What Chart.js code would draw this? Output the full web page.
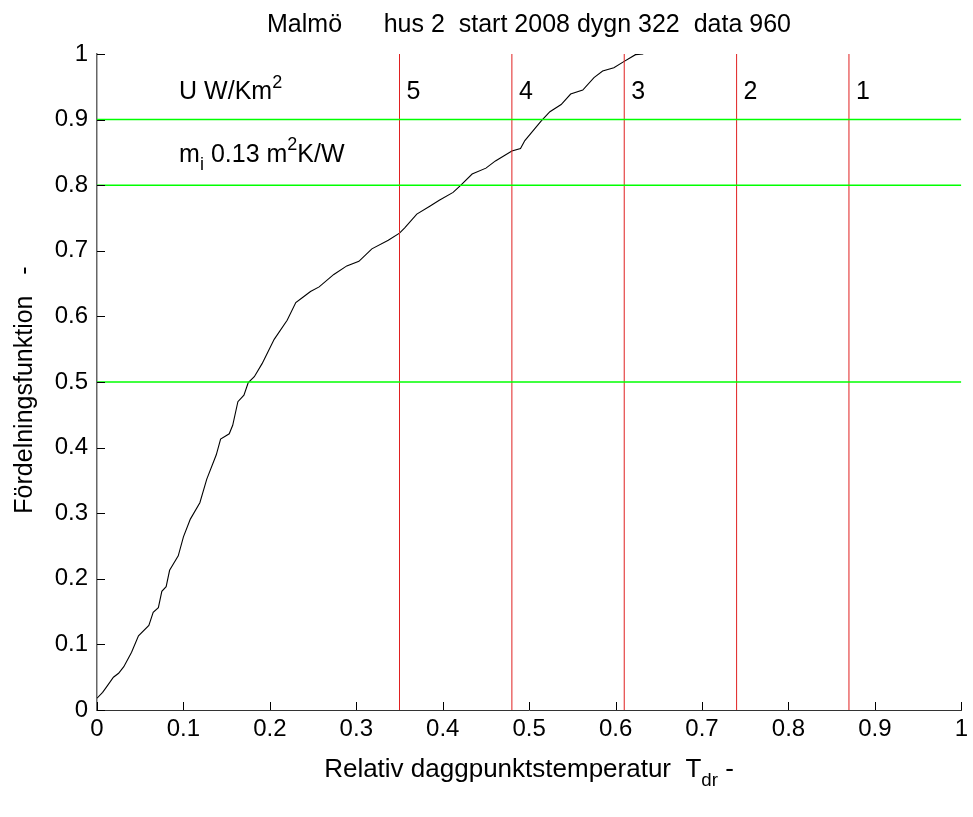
<!DOCTYPE html>
<html>
<head>
<meta charset="utf-8">
<title>Fördelningsfunktion</title>
<script src="https://cdn.jsdelivr.net/npm/chart.js@4"></script>
<style>
  body { margin: 0; background: #fff; }
  canvas { display: block; }
</style>
</head>
<body>
<canvas id="fdChart" width="973" height="817"></canvas>
<script>
// Distribution curve
const tdr = [0, 0.0065, 0.0115, 0.019, 0.025, 0.031, 0.04, 0.048, 0.06, 0.065, 0.071, 0.075, 0.08, 0.084,
  0.094, 0.1, 0.108, 0.119, 0.127, 0.138, 0.143, 0.153, 0.157, 0.163, 0.17, 0.175, 0.182, 0.191, 0.205,
  0.22, 0.23, 0.239, 0.247, 0.257, 0.274, 0.289, 0.303, 0.318, 0.337, 0.35, 0.356, 0.37, 0.385, 0.396,
  0.412, 0.421, 0.434, 0.45, 0.461, 0.48, 0.49, 0.495, 0.514, 0.524, 0.537, 0.548, 0.562, 0.575, 0.585,
  0.598, 0.609, 0.623, 0.632];
const fraction = [0.018, 0.027, 0.036, 0.05, 0.056, 0.066, 0.088, 0.113, 0.129, 0.149, 0.156, 0.181, 0.188, 0.213,
  0.235, 0.264, 0.291, 0.316, 0.352, 0.389, 0.413, 0.421, 0.434, 0.47, 0.48, 0.499, 0.508, 0.528, 0.565,
  0.594, 0.621, 0.63, 0.638, 0.645, 0.664, 0.677, 0.684, 0.703, 0.716, 0.727, 0.735, 0.756, 0.768, 0.777,
  0.789, 0.8, 0.817, 0.826, 0.837, 0.852, 0.856, 0.868, 0.898, 0.912, 0.923, 0.939, 0.945, 0.964, 0.974,
  0.979, 0.988, 0.999, 1.0];

// U-value zones (vertical lines) and reference levels (green lines)
const zoneX = [0.35, 0.48, 0.61, 0.74, 0.87];
const zoneLabels = ['5', '4', '3', '2', '1'];
const levels = [0.5, 0.8, 0.9];

// Tick labels
const xTicks = [0, 0.1, 0.2, 0.3, 0.4, 0.5, 0.6, 0.7, 0.8, 0.9, 1];
const yTicks = [0, 0.1, 0.2, 0.3, 0.4, 0.5, 0.6, 0.7, 0.8, 0.9, 1];

const FONT = '"Liberation Sans", Arial, sans-serif';

const datasets = [];
levels.forEach(l => datasets.push({
    data: [{ x: 0, y: l }, { x: 1, y: l }],
    borderColor: '#00ff00', borderWidth: 1.5, pointRadius: 0, showLine: true
}));
zoneX.forEach(z => datasets.push({
    data: [{ x: z, y: 0 }, { x: z, y: 1 }],
    borderColor: '#e02020', borderWidth: 1, pointRadius: 0, showLine: true
}));
datasets.push({
    data: tdr.map((x, i) => ({ x: x, y: fraction[i] })),
    borderColor: '#000', borderWidth: 1.1, pointRadius: 0, showLine: true, tension: 0
});

// draw "text" with sub/superscript pieces
function drawRuns(ctx, runs, x, y, size) {
    let cx = x;
    runs.forEach(r => {
        const s = r.sup || r.sub ? size * 0.72 : size;
        ctx.font = s + 'px ' + FONT;
        const dy = r.sup ? -size * 0.45 : (r.sub ? size * 0.35 : 0);
        ctx.fillText(r.t, cx, y + dy);
        cx += ctx.measureText(r.t).width;
    });
    return cx - x;
}
function runsWidth(ctx, runs, size) {
    let w = 0;
    runs.forEach(r => {
        const s = r.sup || r.sub ? size * 0.72 : size;
        ctx.font = s + 'px ' + FONT;
        w += ctx.measureText(r.t).width;
    });
    return w;
}

const decorations = {
    id: 'decorations',
    afterDraw(chart) {
        const { ctx, scales: { x, y }, chartArea } = chart;
        ctx.save();
        // inward ticks
        ctx.strokeStyle = '#000';
        ctx.lineWidth = 1;
        ctx.beginPath();
        xTicks.forEach(v => {
            const px = Math.round(x.getPixelForValue(v)) + 0.5;
            ctx.moveTo(px, chartArea.bottom);
            ctx.lineTo(px, chartArea.bottom - 8);
        });
        yTicks.forEach(v => {
            const py = Math.round(y.getPixelForValue(v)) + 0.5;
            ctx.moveTo(chartArea.left, py);
            ctx.lineTo(chartArea.left + 8, py);
        });
        ctx.stroke();

        ctx.fillStyle = '#000';
        ctx.textBaseline = 'alphabetic';
        ctx.textAlign = 'left';
        // title
        const title = 'Malmö      hus 2  start 2008 dygn 322  data 960';
        ctx.font = '25px ' + FONT;
        const tw = ctx.measureText(title).width;
        ctx.fillText(title, 529 - tw / 2, 32);

        // zone numbers
        zoneX.forEach((z, i) => {
            ctx.font = '25px ' + FONT;
            ctx.fillText(zoneLabels[i], x.getPixelForValue(z) + 7, y.getPixelForValue(0.931));
        });
        // annotations
        drawRuns(ctx, [{ t: 'U W/Km' }, { t: '2', sup: true }],
            x.getPixelForValue(0.095), y.getPixelForValue(0.931), 25);
        drawRuns(ctx, [{ t: 'm' }, { t: 'i', sub: true }, { t: ' 0.13 m' }, { t: '2', sup: true }, { t: 'K/W' }],
            x.getPixelForValue(0.095), y.getPixelForValue(0.836), 25);

        // x axis title
        const xr = [{ t: 'Relativ daggpunktstemperatur  T' }, { t: 'dr', sub: true }, { t: ' -' }];
        const xw = runsWidth(ctx, xr, 26);
        drawRuns(ctx, xr, 529 - xw / 2, 777, 26);

        // y axis title
        ctx.translate(32, 390);
        ctx.rotate(-Math.PI / 2);
        ctx.font = '25px ' + FONT;
        const yt = 'Fördelningsfunktion   -';
        ctx.fillText(yt, -ctx.measureText(yt).width / 2, 0);
        ctx.restore();
    }
};

new Chart(document.getElementById('fdChart'), {
    type: 'scatter',
    data: { datasets: datasets },
    options: {
        responsive: false,
        animation: false,
        devicePixelRatio: 1,
        layout: { padding: { top: 54, right: 8, left: 0, bottom: 0 } },
        plugins: { legend: { display: false }, tooltip: { enabled: false } },
        scales: {
            x: {
                type: 'linear', min: 0, max: 1,
                afterBuildTicks: s => { s.ticks = xTicks.map(v => ({ value: v })); },
                afterFit: s => { s.height = 107; },
                grid: { display: true, drawOnChartArea: false, drawTicks: false },
                border: { color: '#333', width: 1 },
                ticks: {
                    padding: 5, color: '#000', maxRotation: 0, autoSkip: false,
                    font: { family: FONT, size: 24 },
                    callback: v => String(Number(v.toFixed(1)))
                }
            },
            y: {
                type: 'linear', min: 0, max: 1,
                afterBuildTicks: s => { s.ticks = yTicks.map(v => ({ value: v })); },
                afterFit: s => { s.width = 97; },
                grid: { display: true, drawOnChartArea: false, drawTicks: false },
                border: { color: '#666', width: 1.5 },
                ticks: {
                    padding: 9, color: '#000', autoSkip: false,
                    font: { family: FONT, size: 24 },
                    callback: v => String(Number(v.toFixed(1)))
                }
            }
        }
    },
    plugins: [decorations]
});
</script>
</body>
</html>
